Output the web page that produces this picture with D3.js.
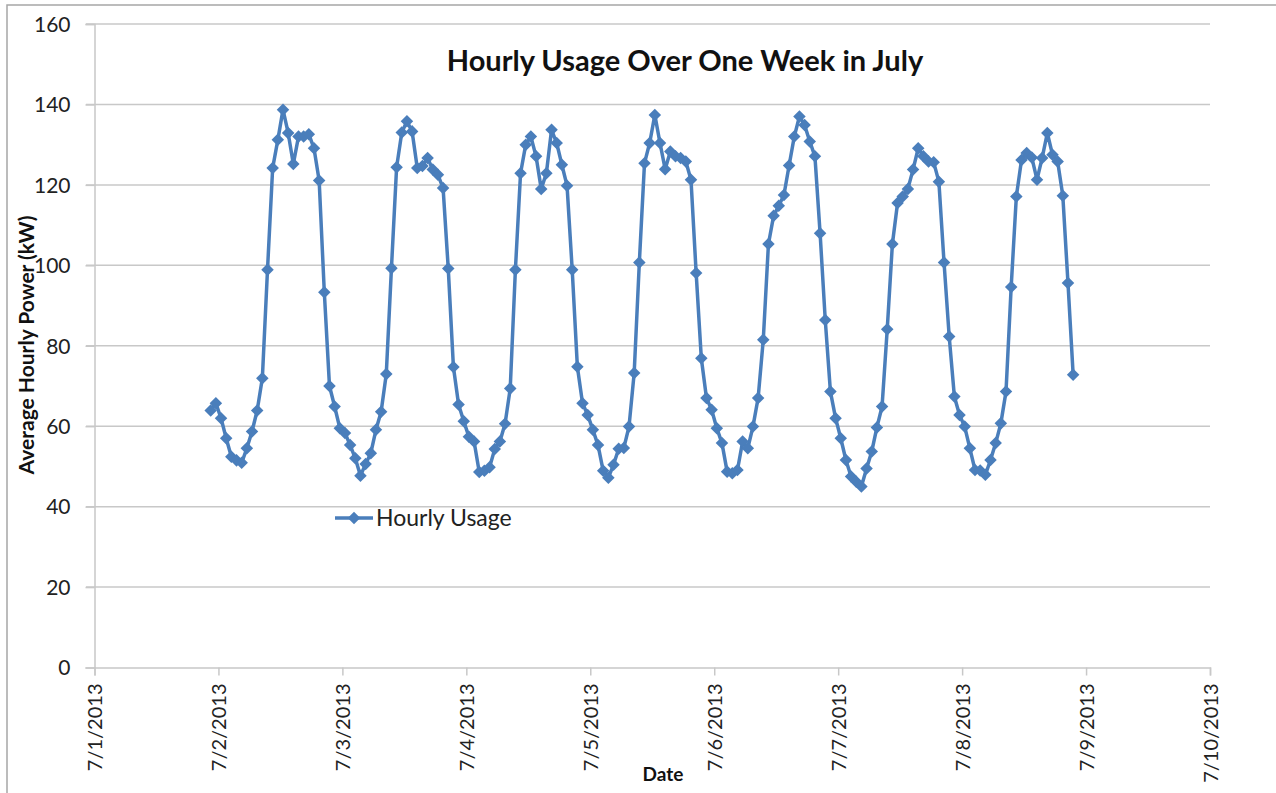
<!DOCTYPE html>
<html>
<head>
<meta charset="utf-8">
<script src="https://cdn.jsdelivr.net/npm/d3@7"></script>
<style>
  body { margin: 0; background: #fff; }
  svg { display: block; font-family: Lato, Calibri, "Open Sans", sans-serif; }
</style>
</head>
<body>
<svg id="chart" width="1276" height="793"></svg>
<script>
// hourly readings, first one at 7/1/2013 22:30
const startTime = new Date(2013, 6, 1, 22, 30);
const hourlyUsage = [
  63.9, 65.7, 62.0, 57.0, 52.4, 51.5, 50.9, 54.5, 58.7, 63.9, 71.9, 98.9,
  124.2, 131.2, 138.7, 132.9, 125.2, 132.0, 132.0, 132.6, 129.1, 121.1, 93.3, 70.0,
  64.9, 59.5, 58.3, 55.3, 52.0, 47.7, 50.6, 53.3, 59.1, 63.6, 73.0, 99.3,
  124.4, 133.0, 135.8, 133.3, 124.2, 124.7, 126.7, 123.8, 122.5, 119.2, 99.2, 74.7,
  65.4, 61.2, 57.4, 56.2, 48.6, 48.9, 49.8, 54.3, 56.2, 60.6, 69.4, 98.9,
  122.9, 130.0, 132.0, 127.1, 119.0, 122.9, 133.7, 130.4, 125.0, 119.8, 98.9, 74.8,
  65.7, 62.8, 59.1, 55.3, 48.9, 47.2, 50.4, 54.4, 54.6, 59.9, 73.2, 100.7,
  125.4, 130.4, 137.4, 130.4, 123.9, 128.3, 127.1, 126.7, 125.8, 121.3, 98.1, 76.9,
  67.0, 64.1, 59.5, 55.8, 48.7, 48.3, 49.1, 56.2, 54.5, 59.9, 67.0, 81.5,
  105.3, 112.3, 114.8, 117.5, 124.8, 132.0, 137.0, 134.9, 130.8, 127.1, 108.0, 86.4,
  68.6, 62.0, 57.0, 51.6, 47.5, 46.2, 45.0, 49.5, 53.7, 59.7, 64.9, 84.1,
  105.3, 115.5, 117.1, 119.0, 123.8, 129.1, 127.1, 125.8, 125.6, 120.8, 100.7, 82.3,
  67.4, 62.8, 59.9, 54.5, 49.1, 49.0, 47.9, 51.6, 55.8, 60.7, 68.6, 94.6,
  117.1, 126.2, 127.9, 126.8, 121.3, 126.7, 132.9, 127.5, 125.8, 117.3, 95.6, 72.8
];
const yTicks = [0, 20, 40, 60, 80, 100, 120, 140, 160];
const xTickDates = d3.timeDay.range(new Date(2013, 6, 1), new Date(2013, 6, 11));

const titleText = 'Hourly Usage Over One Week in July';
const yLabel = 'Average Hourly Power (kW)';
const xLabel = 'Date';
const seriesName = 'Hourly Usage';

const blue = '#4a7ebb';
const grid = '#c8c8c8';

const data = hourlyUsage.map((v, i) => ({ t: d3.timeHour.offset(startTime, i), v: v }));

const svg = d3.select('#chart');

// outer chart border (only top/left visible in the shot)
svg.append('rect').attr('x', 7).attr('y', 5).attr('width', 1320).attr('height', 840)
  .attr('fill', 'none').attr('stroke', '#a6a6a6').attr('stroke-width', 1.5);

const x = d3.scaleTime()
  .domain([new Date(2013, 6, 1), new Date(2013, 6, 10)])
  .range([94.5, 1210]);
const y = d3.scaleLinear().domain([0, 160]).range([667.5, 24]);

// horizontal gridlines
svg.append('g')
  .selectAll('line')
  .data(yTicks.filter(d => d > 0))
  .join('line')
  .attr('x1', 86).attr('x2', 1210)
  .attr('y1', d => y(d)).attr('y2', d => y(d))
  .attr('stroke', grid).attr('stroke-width', 1.5);

// y axis
const yAxis = svg.append('g')
  .attr('transform', 'translate(94.5,0)')
  .call(d3.axisLeft(y).tickValues(yTicks).tickSize(9).tickPadding(15).tickFormat(d3.format('d')));
yAxis.select('.domain').attr('stroke', grid).attr('stroke-width', 1.5);
yAxis.selectAll('.tick line').attr('stroke', grid).attr('stroke-width', 1.5);
yAxis.selectAll('.tick text')
  .attr('font-size', 21).attr('fill', '#222').attr('font-family', 'Lato, sans-serif')
  .attr('dy', '0.35em');

// x axis
const xAxis = svg.append('g')
  .attr('transform', 'translate(0,667.5)')
  .call(d3.axisBottom(x).tickValues(xTickDates).tickSize(8).tickFormat(d3.timeFormat('%-m/%-d/%Y')));
xAxis.select('.domain').attr('stroke', grid).attr('stroke-width', 1.5);
xAxis.selectAll('.tick line').attr('stroke', grid).attr('stroke-width', 1.5);
xAxis.selectAll('.tick text')
  .attr('font-size', 20).attr('fill', '#222').attr('font-family', 'Lato, sans-serif')
  .attr('text-anchor', 'end')
  .attr('transform', 'rotate(-90)')
  .attr('x', -16).attr('y', 0).attr('dy', '0.35em');

// series line
const line = d3.line().x(d => x(d.t)).y(d => y(d.v));
svg.append('path')
  .datum(data)
  .attr('d', line)
  .attr('fill', 'none')
  .attr('stroke', blue)
  .attr('stroke-width', 3.5)
  .attr('stroke-linejoin', 'round');

const diamond = d3.symbol().type(d3.symbolDiamond2).size(100);
svg.append('g')
  .selectAll('path')
  .data(data)
  .join('path')
  .attr('d', diamond)
  .attr('transform', d => `translate(${x(d.t)},${y(d.v)})`)
  .attr('fill', blue);

// title
svg.append('text')
  .attr('x', 685).attr('y', 71)
  .attr('text-anchor', 'middle')
  .attr('font-size', 29).attr('font-weight', 'bold').attr('fill', '#111')
  .text(titleText);

// axis titles
svg.append('text')
  .attr('transform', 'translate(34,345) rotate(-90)')
  .attr('text-anchor', 'middle')
  .attr('font-size', 21).attr('font-weight', 'bold').attr('fill', '#111')
  .text(yLabel);

svg.append('text')
  .attr('x', 663).attr('y', 781)
  .attr('text-anchor', 'middle')
  .attr('font-size', 19).attr('font-weight', 'bold').attr('fill', '#111')
  .text(xLabel);

// legend
const legend = svg.append('g').attr('transform', 'translate(335,518)');
legend.append('line').attr('x1', 0).attr('x2', 38).attr('y1', 0).attr('y2', 0)
  .attr('stroke', blue).attr('stroke-width', 3.5);
legend.append('path').attr('d', diamond).attr('transform', 'translate(19,0)').attr('fill', blue);
legend.append('text').attr('x', 41).attr('y', 0).attr('dy', '0.35em')
  .attr('font-size', 23).attr('fill', '#222')
  .text(seriesName);
</script>
</body>
</html>
